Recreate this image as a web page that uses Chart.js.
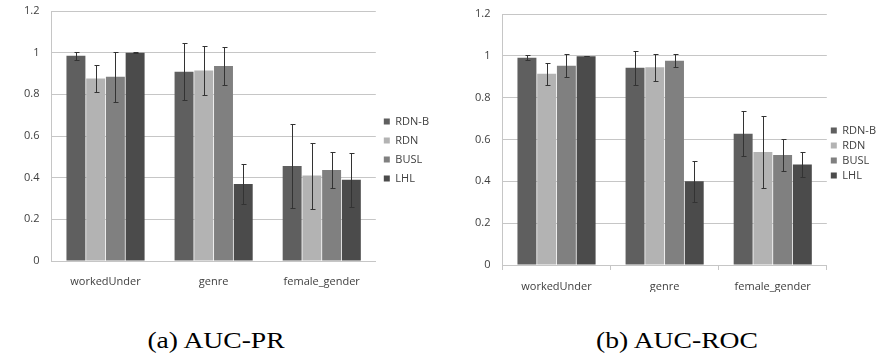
<!DOCTYPE html>
<html>
<head>
<meta charset="utf-8">
<script src="https://cdn.jsdelivr.net/npm/chart.js@4"></script>
<style>
  html, body { margin: 0; padding: 0; background: #fff; }
  #wrap { position: relative; width: 886px; height: 360px; overflow: hidden; }
  .box { position: absolute; top: 0; width: 443px; }
  .caption {
    position: absolute; top: 327px; width: 240px; text-align: center;
    font-family: 'Liberation Serif', serif; font-size: 24px; color: #000;
    transform: scaleX(1.15);
  }
</style>
</head>
<body>
<div id="wrap">
  <div class="box" style="left:0; height:304px;"><canvas id="prChart"></canvas></div>
  <div class="box" style="left:443px; height:308px;"><canvas id="rocChart"></canvas></div>
  <div class="caption" style="left:96px;">(a) AUC-PR</div>
  <div class="caption" style="left:557px;">(b) AUC-ROC</div>
</div>
<script>
// Data
const categories = ['workedUnder', 'genre', 'female_gender'];
const methods = ['RDN-B', 'RDN', 'BUSL', 'LHL'];
const yTicks = [0, 0.2, 0.4, 0.6, 0.8, 1, 1.2];

// AUC-PR means and error half-widths
const prRdnB = [0.985, 0.908, 0.456];
const prRdnBErr = [0.02, 0.137, 0.2];
const prRdn = [0.876, 0.914, 0.41];
const prRdnErr = [0.066, 0.118, 0.158];
const prBusl = [0.885, 0.936, 0.437];
const prBuslErr = [0.12, 0.09, 0.087];
const prLhl = [1.0, 0.37, 0.39];
const prLhlErr = [0.001, 0.097, 0.13];

// AUC-ROC means and error half-widths
const rocRdnB = [0.991, 0.943, 0.628];
const rocRdnBErr = [0.011, 0.082, 0.108];
const rocRdn = [0.914, 0.946, 0.54];
const rocRdnErr = [0.052, 0.064, 0.174];
const rocBusl = [0.953, 0.976, 0.526];
const rocBuslErr = [0.054, 0.031, 0.077];
const rocLhl = [0.998, 0.4, 0.48];
const rocLhlErr = [0.001, 0.099, 0.06];

const colors = ['#5f5f5f', '#b3b3b3', '#808080', '#4b4b4b'];
const textColor = '#404040';
const gridColor = '#c6c6c6';

// error bars drawn on top of each bar
const errorBars = {
    id: 'errorBars',
    afterDatasetsDraw(chart) {
        const ctx = chart.ctx;
        const y = chart.scales.y;
        ctx.save();
        ctx.strokeStyle = '#333333';
        ctx.lineWidth = 1;
        chart.data.datasets.forEach((ds, i) => {
            const meta = chart.getDatasetMeta(i);
            meta.data.forEach((bar, j) => {
                const v = ds.data[j];
                const e = ds.errors[j];
                const x = Math.round(bar.x) + 0.5;
                const top = Math.round(y.getPixelForValue(v + e)) + 0.5;
                const bot = Math.round(y.getPixelForValue(v - e)) + 0.5;
                ctx.beginPath();
                ctx.moveTo(x, top);
                ctx.lineTo(x, bot);
                ctx.moveTo(x - 2, top);
                ctx.lineTo(x + 3, top);
                ctx.moveTo(x - 2, bot);
                ctx.lineTo(x + 3, bot);
                ctx.stroke();
            });
        });
        ctx.restore();
    }
};

function makeChart(id, series, errors, opts) {
    const ctx = document.getElementById(id).getContext('2d');
    return new Chart(ctx, {
        type: 'bar',
        data: {
            labels: categories,
            datasets: methods.map((m, i) => ({
                label: m,
                data: series[i],
                errors: errors[i],
                backgroundColor: colors[i],
                borderWidth: 0,
                categoryPercentage: 0.73,
                barPercentage: 0.96
            }))
        },
        options: {
            responsive: true,
            maintainAspectRatio: false,
            animation: false,
            layout: {
                padding: opts.padding
            },
            scales: {
                x: {
                    afterFit: (axis) => {
                        axis.height = opts.axisH;
                    },
                    grid: {
                        display: opts.xTicks,
                        drawOnChartArea: false,
                        offset: true,
                        tickLength: 5,
                        color: gridColor
                    },
                    border: { display: true, color: gridColor },
                    ticks: {
                        color: textColor,
                        font: { family: 'Open Sans', size: 11 },
                        padding: opts.xPad
                    }
                },
                y: {
                    min: 0,
                    max: 1.2,
                    afterBuildTicks: (axis) => {
                        axis.ticks = yTicks.map(v => ({ value: v }));
                    },
                    afterFit: (axis) => {
                        axis.paddingTop = 7;
                        axis.paddingBottom = 7;
                    },
                    grid: {
                        color: gridColor,
                        drawTicks: false
                    },
                    border: { display: true, color: gridColor },
                    ticks: {
                        color: textColor,
                        font: { family: 'Open Sans', size: 11 },
                        padding: 12,
                        callback: (v) => String(Math.round(v * 10) / 10)
                    }
                }
            },
            plugins: {
                legend: {
                    position: 'right',
                    labels: {
                        boxWidth: 6,
                        boxHeight: 6,
                        padding: opts.legendPad,
                        color: textColor,
                        font: { family: 'Open Sans', size: 11, lineHeight: opts.legendLine }
                    }
                },
                tooltip: { enabled: false }
            }
        },
        plugins: [errorBars]
    });
}

makeChart('prChart',
    [prRdnB, prRdn, prBusl, prLhl],
    [prRdnBErr, prRdnErr, prBuslErr, prLhlErr],
    { padding: { left: 12, top: 11, right: 4, bottom: 15 }, xTicks: false, xPad: 9, axisH: 28, legendPad: 8, legendLine: 1.2 });

makeChart('rocChart',
    [rocRdnB, rocRdn, rocBusl, rocLhl],
    [rocRdnBErr, rocRdnErr, rocBuslErr, rocLhlErr],
    { padding: { left: 20, top: 14, right: 0, bottom: 16 }, xTicks: true, xPad: 10, axisH: 27, legendPad: 4, legendLine: 1.45 });
</script>
</body>
</html>
